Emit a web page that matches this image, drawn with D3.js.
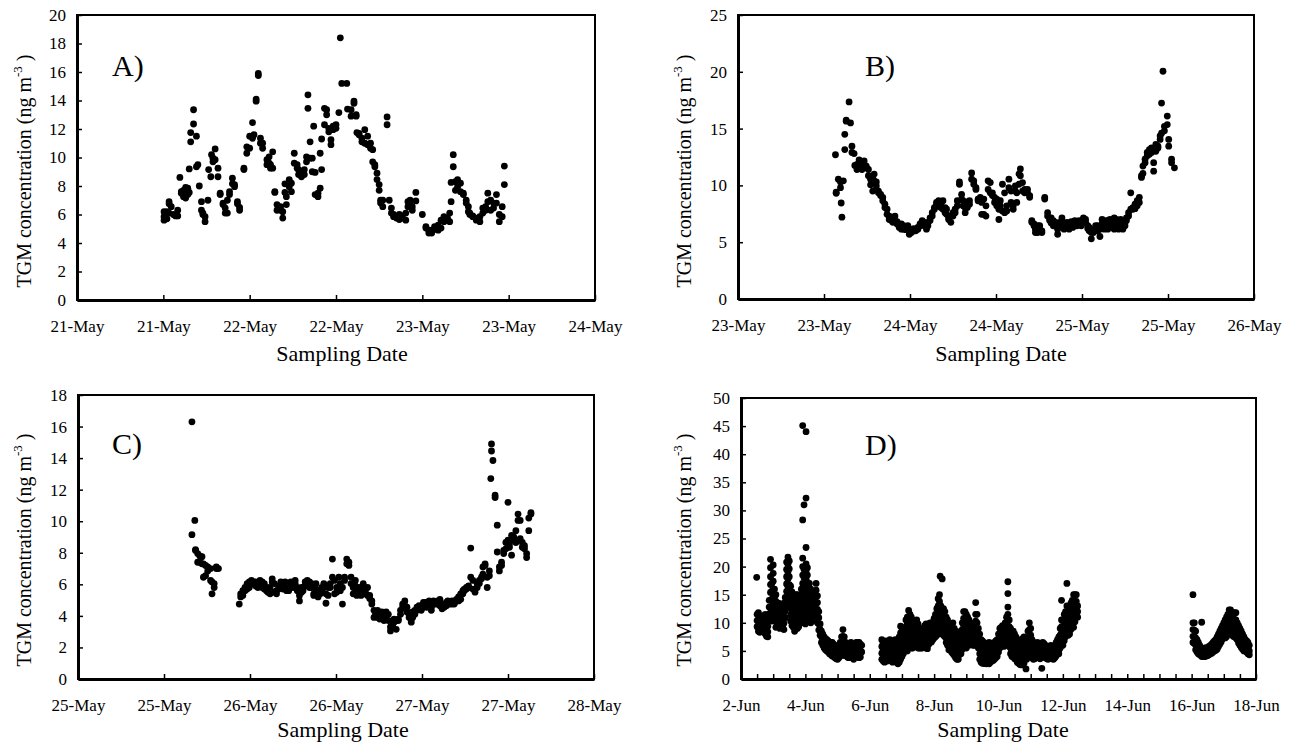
<!DOCTYPE html>
<html>
<head>
<meta charset="utf-8">
<script src="https://cdn.jsdelivr.net/npm/d3@7"></script>
<style>
  body { margin: 0; background: #fff; }
  svg { display: block; }
  text { fill: #000; }
</style>
</head>
<body>
<svg id="chart" width="1300" height="748"></svg>
<script>
var HOUR = 36e5

// sampling periods (UTC midnight of the first day on each axis)
var startA = Date.UTC(2008, 4, 21)
var startB = Date.UTC(2008, 4, 23)
var startC = Date.UTC(2008, 4, 25)
var startD = Date.UTC(2008, 5, 2)

var yTicksA = [0, 2, 4, 6, 8, 10, 12, 14, 16, 18, 20]
var yTicksB = [0, 5, 10, 15, 20, 25]
var yTicksC = [0, 2, 4, 6, 8, 10, 12, 14, 16, 18]
var yTicksD = [0, 5, 10, 15, 20, 25, 30, 35, 40, 45, 50]

// rows: [hours after start, TGM readings around that time (ng m-3)...]
var tgmA = [
  [12.1, 6.2, 5.85, 5.6], [12.5, 5.7, 6.2], [12.8, 6.9, 6.75, 6.1], [13.1, 6.55], [13.4, 6.0], [13.7, 5.9],
  [14.0, 6.3, 5.9], [14.3, 8.6], [14.5, 7.6, 7.5], [14.8, 7.7, 7.25], [15.1, 7.6, 7.9, 7.15], [15.4, 7.85, 7.4],
  [15.6, 9.2, 7.55], [15.8, 11.1, 11.75], [16.2, 13.35, 12.35], [16.6, 11.5, 9.35], [16.8, 9.5], [17.0, 8.0],
  [17.3, 6.9, 6.3], [17.5, 6.1, 6.0], [17.8, 5.5, 5.85], [18.2, 7.0], [18.3, 9.15], [18.6, 8.65], [18.7, 10.2],
  [18.9, 9.95, 9.7], [19.2, 10.6, 9.85], [19.6, 9.25, 8.65], [19.9, 7.5, 7.4], [20.3, 6.8, 6.7], [20.6, 6.45, 6.1],
  [20.9, 6.1, 7.0], [21.2, 7.4, 7.6], [21.6, 8.55, 8.15], [21.9, 8.1, 7.95], [22.3, 6.9, 6.75], [22.6, 6.5, 6.3],
  [23.2, 9.15, 9.25], [23.6, 10.3, 10.75], [24.0, 10.65, 11.5], [24.4, 11.35, 12.45], [24.6, 11.6],
  [24.9, 14.1, 13.95], [25.2, 15.75, 15.9], [25.5, 11.35, 11.0], [25.8, 10.65, 11.0], [26.4, 9.5, 9.85],
  [26.7, 10.05, 9.6], [26.9, 9.25, 9.5], [27.2, 10.4, 9.25], [27.5, 7.6, 7.55], [27.8, 6.3, 6.7], [28.3, 6.55, 6.3],
  [28.6, 5.75, 6.2], [28.9, 7.55, 8.15], [29.1, 7.25, 6.7], [29.5, 8.45, 7.95], [29.8, 7.6, 8.2], [30.2, 10.3, 9.6],
  [30.6, 9.5, 9.25], [30.8, 9.15, 8.8], [31.2, 8.65, 8.9], [31.6, 8.8, 9.15], [31.9, 9.7, 10.05], [32.1, 14.4, 13.45],
  [32.4, 11.1, 9.95], [32.7, 9.95, 9.0], [32.9, 12.2], [33.1, 8.95, 7.4], [33.5, 7.25, 7.5], [33.8, 7.85, 10.3],
  [34.0, 11.3, 9.15], [34.4, 13.45, 12.3], [34.7, 13.35, 13.0], [35.0, 12.05, 11.8], [35.3, 11.25, 10.9],
  [35.6, 11.95, 12.2], [36.0, 12.05, 12.3], [36.4, 13.15], [36.6, 18.4], [36.8, 15.2], [37.5, 15.2], [37.6, 13.4],
  [38.1, 13.35, 12.9], [38.5, 13.95, 13.8], [38.8, 13.0, 12.9], [38.9, 11.75], [39.2, 11.7, 11.6], [39.6, 11.1, 11.35],
  [40.0, 11.95, 11.0], [40.4, 11.5, 10.9], [40.8, 11.0, 10.65], [41.1, 10.55, 9.7], [41.4, 9.5, 9.35], [41.7, 8.9, 8.45],
  [42.0, 8.1, 7.7], [42.2, 7.0, 6.8], [42.5, 6.55, 7.0], [43.1, 12.85, 12.3], [43.4, 7.0], [43.7, 6.45, 6.1],
  [44.0, 6.0, 5.85], [44.4, 5.85, 5.75], [44.8, 6.0, 5.65], [45.2, 5.9, 5.75], [45.7, 5.6, 6.1], [46.0, 6.55, 6.9],
  [46.3, 7.0, 6.7], [46.6, 6.55, 6.3], [47.1, 6.95, 7.55], [48.0, 6.0], [48.5, 5.15, 5.05], [48.9, 4.9, 4.7],
  [49.3, 4.7, 4.9], [49.7, 4.95, 5.15], [50.2, 5.25, 4.9], [50.6, 5.05, 5.6], [51.0, 5.85, 5.5], [51.5, 5.75, 5.6],
  [51.8, 6.1, 5.5], [52.0, 6.9, 8.25], [52.3, 9.35, 10.2], [52.6, 8.3, 7.7], [52.9, 8.45, 7.95], [53.3, 8.2, 7.6],
  [53.7, 7.5, 7.4], [54.1, 7.0, 6.8], [54.4, 6.55, 6.2], [54.6, 6.1, 6.0], [55.0, 5.9, 5.85], [55.5, 5.75, 5.6],
  [56.0, 5.85, 5.5], [56.4, 6.1, 6.45], [56.8, 6.55, 6.3], [57.1, 6.9, 7.5], [57.5, 7.0, 6.3], [57.9, 6.45, 6.8],
  [58.3, 7.4, 6.8], [58.7, 6.0, 5.5], [59.1, 6.55, 5.85], [59.4, 9.4, 8.1]
]

var tgmB = [
  [13.6, 12.7], [13.7, 9.4, 9.3], [14.0, 10.55], [14.3, 10.3, 9.8], [14.4, 8.45], [14.5, 7.2], [14.7, 10.4],
  [14.9, 14.5, 13.15], [15.1, 15.75, 15.65], [15.5, 17.35], [15.7, 15.5], [15.9, 13.45, 12.9], [16.2, 12.8],
  [16.3, 11.75], [16.6, 11.4, 11.85], [16.9, 12.25, 11.7], [17.3, 12.0, 11.4], [17.6, 12.15, 11.85],
  [17.9, 11.7, 11.55], [18.2, 11.4, 10.85], [18.5, 10.05, 10.55], [18.8, 9.5, 10.7], [19.0, 11.0, 10.4],
  [19.3, 10.3, 9.95], [19.6, 9.5, 9.35], [19.9, 9.2, 9.1], [20.2, 8.95, 8.65], [20.5, 8.35, 8.05], [20.8, 7.45, 7.9],
  [21.1, 7.3, 7.0], [21.4, 7.0, 6.9], [21.6, 7.15, 6.75], [21.9, 7.3, 6.9], [22.2, 6.8, 6.6], [22.5, 6.5, 6.3],
  [22.8, 6.6, 6.15], [23.1, 6.15, 6.45], [23.4, 6.3, 6.1], [23.7, 6.15, 6.45], [23.9, 5.85, 5.7], [24.2, 5.85, 6.0],
  [24.5, 6.0, 6.2], [24.8, 6.15, 6.0], [25.1, 6.3, 6.15], [25.4, 6.45, 6.6], [25.7, 6.75, 6.9], [26.0, 6.75, 6.45],
  [26.3, 6.15, 6.45], [26.5, 6.45, 6.75], [26.8, 6.9, 7.15], [27.1, 7.3, 7.6], [27.4, 8.05, 7.9], [27.7, 8.35, 8.5],
  [28.0, 8.65, 8.2], [28.3, 8.35, 8.05], [28.6, 8.65, 7.9], [28.9, 8.05, 7.6], [29.1, 7.9, 7.45], [29.4, 7.15, 7.0],
  [29.7, 6.75, 7.3], [30.0, 7.3, 7.6], [30.3, 7.6, 7.9], [30.6, 8.2, 8.65], [30.9, 10.3, 10.1], [31.2, 9.2, 8.8],
  [31.4, 8.65, 8.2], [31.7, 8.05, 7.6], [32.0, 8.55, 8.05], [32.3, 8.65, 8.35], [32.6, 11.1, 10.55], [32.9, 10.4, 10.1],
  [33.2, 9.8, 9.65], [33.5, 8.8, 8.65], [33.8, 8.65, 8.95], [34.0, 8.5, 7.45], [34.3, 8.8, 7.45], [34.6, 8.2, 7.3],
  [34.9, 9.65, 10.4], [35.2, 10.25, 9.35], [35.5, 9.35, 9.1], [35.8, 8.95, 8.5], [36.1, 8.2, 8.8], [36.4, 7.0, 7.9],
  [36.6, 8.65, 8.2], [36.9, 10.1, 7.75], [37.2, 9.35, 7.6], [37.5, 7.75, 8.2], [37.8, 9.8, 10.55], [38.1, 9.5, 8.5],
  [38.4, 7.9, 8.2], [38.7, 9.95, 9.5], [38.9, 9.35, 8.5], [39.2, 10.1, 11.0], [39.4, 11.45, 10.85], [39.7, 10.25, 9.5],
  [40.0, 9.65, 9.35], [40.4, 9.65, 9.35], [40.7, 9.1, 8.95], [41.0, 6.9, 6.75], [41.3, 6.6, 6.45], [41.5, 6.15, 5.85],
  [41.8, 6.45, 5.85], [42.1, 6.15, 6.45], [42.4, 6.0, 5.85], [42.8, 8.8, 8.95], [43.2, 7.6, 7.3], [43.5, 7.0, 6.9],
  [43.7, 7.15, 6.7], [44.0, 6.9, 6.45], [44.3, 6.75, 6.6], [44.6, 5.7, 6.15], [44.9, 6.75, 6.45], [45.2, 7.15, 6.9],
  [45.5, 6.45, 6.15], [45.9, 6.75, 6.3], [46.2, 6.15, 6.45], [46.5, 6.45, 6.8], [46.7, 6.75, 6.3], [47.0, 6.9, 6.45],
  [47.3, 6.45, 6.75], [47.6, 6.7, 6.9], [47.9, 6.45, 6.6], [48.2, 6.9, 7.15], [48.5, 7.0, 6.75], [48.8, 6.45, 6.2],
  [49.0, 6.3, 6.0], [49.3, 5.3, 5.85], [49.6, 5.85, 6.15], [49.9, 6.15, 6.45], [50.2, 6.0, 6.45], [50.5, 5.5, 6.15],
  [50.8, 7.0, 6.6], [51.1, 6.15, 6.45], [51.4, 6.45, 6.9], [51.6, 6.9, 6.15], [51.9, 6.45, 7.0], [52.2, 6.9, 6.5],
  [52.5, 7.15, 6.15], [52.8, 7.0, 6.45], [53.1, 6.9, 6.15], [53.4, 6.6, 7.0], [53.7, 6.15, 6.45], [54.0, 6.75, 6.45],
  [54.2, 6.9, 7.15], [54.5, 7.3, 7.6], [54.8, 7.9, 9.35], [55.1, 7.9, 8.05], [55.4, 7.95, 8.35], [55.7, 8.65, 8.2],
  [56.0, 8.95, 8.5], [56.3, 10.85, 10.7], [56.5, 11.05, 11.7], [56.8, 12.3, 12.0], [57.1, 12.6, 12.9],
  [57.4, 13.15, 12.75], [57.7, 13.3, 12.9], [58.0, 12.0, 11.25], [58.3, 13.6, 13.0], [58.6, 13.3, 13.45],
  [58.9, 14.35, 14.05], [59.1, 14.6, 17.25], [59.3, 20.05], [59.5, 14.8, 15.2], [59.9, 16.1, 15.35],
  [60.1, 14.05, 13.45], [60.5, 12.3, 12.0], [60.9, 11.55]
]

var tgmC = [
  [15.9, 16.3, 9.15], [16.3, 10.05], [16.4, 8.2, 8.15], [16.7, 7.95, 7.4], [17.0, 7.8, 7.4], [17.3, 7.75, 7.3],
  [17.5, 6.45, 7.3], [17.8, 6.55, 7.2], [18.1, 6.85, 7.1], [18.5, 6.25, 7.0], [18.7, 5.4, 6.15], [19.0, 5.8, 6.05],
  [19.3, 7.1, 7.0], [19.6, 7.0],
  [22.5, 4.75], [22.7, 5.4, 5.2], [23.0, 5.6, 5.3], [23.3, 5.8, 5.6], [23.6, 6.05, 5.7], [23.9, 6.15, 5.8],
  [24.2, 6.25, 6.05], [24.5, 6.05, 6.15], [24.8, 6.15, 5.9], [25.1, 5.8, 6.05], [25.4, 6.25, 5.9], [25.7, 6.15, 5.8],
  [26.0, 6.05, 5.7], [26.3, 5.8, 5.6], [26.5, 5.5, 5.7], [26.8, 5.8, 5.4], [27.1, 6.35, 6.15], [27.4, 6.05, 5.5],
  [27.7, 5.6, 5.4], [28.0, 5.7, 5.9], [28.3, 5.8, 6.15], [28.6, 5.9, 5.7], [28.9, 6.15, 5.8], [29.1, 5.8, 5.6],
  [29.4, 5.7, 5.6], [29.7, 5.9, 6.15], [30.0, 5.9, 5.8], [30.3, 6.25, 6.05], [30.6, 5.8, 5.6], [30.9, 4.95, 5.3],
  [31.2, 5.5, 5.8], [31.4, 5.6, 5.8], [31.7, 6.15, 5.9], [32.0, 6.05, 6.25], [32.3, 6.15, 5.8], [32.6, 6.05, 5.8],
  [32.9, 5.4, 5.3], [33.2, 6.05, 5.7], [33.5, 5.4, 5.2], [33.8, 5.6, 5.4], [34.0, 5.8, 5.6], [34.3, 6.05, 5.8],
  [34.6, 4.8, 5.4], [34.9, 5.8, 5.3], [35.2, 5.8, 6.05], [35.5, 7.6, 6.45], [35.8, 6.25, 5.4], [36.1, 5.8, 5.5],
  [36.4, 6.45, 5.6], [36.6, 6.05, 5.6], [36.9, 4.75, 5.8], [37.2, 6.25, 6.45], [37.5, 7.6, 7.3], [37.8, 7.4, 7.2],
  [38.1, 6.45, 6.05], [38.4, 5.8, 5.4], [38.7, 6.25, 5.9], [38.9, 5.3, 5.6], [39.2, 5.8, 5.5], [39.5, 5.6, 5.3],
  [39.8, 6.05, 5.8], [40.1, 5.6, 5.4], [40.4, 5.8, 5.3], [40.7, 5.3, 5.1], [41.0, 4.95, 4.75], [41.3, 4.35, 3.9],
  [41.5, 4.25, 4.0], [41.8, 4.35, 3.9], [42.1, 4.1, 3.8], [42.4, 4.25, 3.9], [42.7, 4.0, 3.7], [43.0, 3.9, 4.25],
  [43.3, 4.1, 3.7], [43.6, 3.05, 3.3], [43.9, 3.7, 3.4], [44.1, 3.8, 3.6], [44.4, 3.15, 3.7], [44.7, 3.8, 3.7],
  [45.0, 4.35, 4.1], [45.3, 4.75, 4.55], [45.6, 4.95, 4.65], [45.9, 4.55, 4.25], [46.2, 4.1, 3.9], [46.5, 3.8, 3.6],
  [46.7, 3.9, 4.25], [47.0, 4.35, 4.1], [47.3, 4.35, 4.55], [47.6, 4.45, 4.65], [47.9, 4.55, 4.35],
  [48.2, 4.75, 4.85], [48.5, 4.85, 4.55], [48.8, 4.75, 4.55], [49.0, 4.95, 4.65], [49.3, 4.55, 4.35],
  [49.6, 4.75, 4.95], [49.9, 4.75, 4.85], [50.2, 4.95, 4.75], [50.5, 5.05, 4.65], [50.8, 4.45, 4.75],
  [51.1, 4.55, 4.75], [51.4, 4.85, 4.65], [51.6, 4.95, 4.75], [51.9, 4.75, 4.85], [52.2, 4.75, 4.95],
  [52.5, 4.75, 4.85], [52.8, 5.05, 4.95], [53.1, 4.95, 5.2], [53.4, 5.05, 5.4], [53.7, 5.4, 5.6], [53.9, 5.6, 5.7],
  [54.2, 5.7, 5.8], [54.5, 5.9, 5.8], [54.8, 8.3, 6.45], [55.1, 6.25, 5.7], [55.4, 5.7, 5.5], [55.7, 5.8, 6.05],
  [56.0, 6.25, 6.05], [56.3, 6.35, 6.45], [56.5, 6.65, 7.1], [56.8, 7.2, 7.3], [57.1, 5.8, 6.45], [57.4, 6.55, 6.85],
  [57.6, 12.7], [57.7, 14.9, 14.45], [57.9, 13.85], [58.2, 11.65, 11.5], [58.5, 9.75, 8.05], [58.8, 6.85, 7.1],
  [59.1, 7.4, 7.2], [59.4, 7.95, 8.15], [59.7, 8.25, 8.65], [60.0, 11.2, 8.8], [60.2, 8.35, 8.55], [60.5, 7.85, 9.1],
  [60.8, 9.0, 8.8], [61.1, 8.65, 9.4], [61.4, 10.05, 10.45], [61.7, 10.05, 8.9], [62.0, 8.65, 8.35],
  [62.3, 8.25, 8.45], [62.6, 7.95, 7.7], [62.9, 9.4, 10.2], [63.2, 10.55, 10.45]
]

var tgmD = [
  [11.7, 18.1], [12, 11.5, 10.4, 9.3], [13, 11.8, 10.6, 9.5, 8.5], [14, 10.5, 9.4, 8.3], [15, 11, 10, 9],
  [16, 11.2, 10, 8.8], [17, 10.8, 9.6, 8.6], [18, 11.5, 10.3, 9.2, 8], [19, 10, 8.8, 7.6], [20, 10.5, 9.4, 8.4, 7.5],
  [21, 14, 12.8, 11.6, 10.4], [22, 21.3, 19.8, 18.2, 16.8, 15.4, 14, 12.6, 11.2], [23, 17, 15.6, 14.2, 12.8, 11.5, 10.3],
  [24, 20.3, 18.8, 17.4, 16, 14.6, 13.2, 11.8, 10.6], [25, 16, 14.6, 13.2, 11.8, 10.5],
  [26, 15, 13.8, 12.6, 11.4, 10.2, 9.2], [27, 13.5, 12.3, 11.1, 10], [28, 13.5, 12.3, 11.1, 9.9],
  [29, 12.5, 11.3, 10.1, 9], [30, 12.5, 11.4, 10.3, 9.2], [31, 13, 11.8, 10.6, 9.4], [32, 13.5, 12.3, 11.1, 9.9, 8.8],
  [33, 14.5, 13.3, 12.1, 10.9], [34, 20.8, 19.5, 18.2, 16.9, 15.6, 14.3, 13], [35, 21.7, 20.4, 19.1, 17.8, 16.5, 15.2, 13.9],
  [36, 21, 19.6, 18.2, 16.8, 15.4, 14], [37, 16.5, 15.2, 13.9, 12.6, 11.4, 10.3], [38, 15.5, 14.3, 13.1, 11.9, 10.7, 9.5],
  [39, 14, 12.8, 11.6, 10.4, 9.2], [40, 14.5, 13.3, 12.1, 10.9, 9.7, 8.5], [41, 15, 13.8, 12.6, 11.4, 10.2, 9],
  [42, 15, 13.8, 12.6, 11.4, 10.2, 9], [43, 14, 12.8, 11.6, 10.4, 9.3], [44, 13.5, 12.3, 11.1, 9.9],
  [45, 16, 14.8, 13.6, 12.4, 11.2, 10], [46, 45.1, 28.3, 21.5, 20, 18.5, 17, 15.6, 14.2, 12.8, 11.5],
  [47, 31, 19.5, 18, 16.5, 15, 13.5, 12, 10.6], [48, 17.5, 16.2, 14.9, 13.6, 12.3, 11, 9.8],
  [48.5, 44, 32.2, 23.4, 20.5, 19.2, 17.9, 16.6], [49.5, 19.8, 18.5, 17.2, 15.9, 14.6, 13.3, 12, 10.8],
  [51, 17, 15.8, 14.6, 13.4, 12.2, 11], [52, 16, 14.8, 13.6, 12.4, 11.2, 10], [53, 15, 13.8, 12.6, 11.4, 10.3],
  [54, 14.5, 13.3, 12.1, 11], [55, 15, 13.8, 12.6, 11.5], [56, 17, 15.8, 14.6, 13.4, 12.2], [57, 14.8, 13.6, 12.4, 11.2, 10],
  [58, 12, 10.9, 9.8, 8.7], [59, 9.8, 8.8, 7.8], [60, 8.5, 7.5, 6.5], [61, 8, 7, 6], [62, 7.5, 6.5, 5.5], [63, 7.2, 6.2, 5.2],
  [64, 7, 6, 5], [65, 6.8, 5.8, 4.8], [66, 6.5, 5.5, 4.5], [67, 6.5, 5.4, 4.3], [68, 6.5, 5.3, 4.1], [69, 6.2, 5.1, 4],
  [70, 6, 4.9, 3.8], [71, 5.8, 4.7, 3.6], [72, 5.5, 4.5, 3.5], [73, 6, 4.9, 3.8], [74, 6.5, 5.4, 4.3],
  [75, 7.5, 6.3, 5.1, 4.2], [76, 8.8, 7.6, 6.4, 5.3, 4.5], [77, 7.5, 6.3, 5.1, 4.2], [78, 6.5, 5.4, 4.3], [79, 6.2, 5.1, 4],
  [80, 6, 4.9, 3.8], [81, 6.2, 5.1, 4], [82, 6.5, 5.4, 4.3], [83, 6.2, 5, 3.8], [84, 6, 4.8, 3.5], [85, 6.3, 5.2, 4.1],
  [86, 6.5, 5.5, 4.5], [87, 6.5, 5.3, 4.1], [88, 6.5, 5.3, 3.8], [89, 6.2, 5, 3.9], [90, 6, 4.8],

  [105, 7, 5.8, 4.6, 3.5], [106, 6.5, 5.4, 4.3, 3.2], [107, 6.5, 5.3, 4.1, 3], [108, 6.8, 5.6, 4.4, 3.3],
  [109, 6, 4.9, 3.8, 3.2], [110, 6.5, 5.4, 4.3], [111, 7, 5.8, 4.6, 3.6], [112, 6.8, 5.6, 4.4, 3.3],
  [113, 6.5, 5.3, 4.1, 3], [114, 6.8, 5.6, 4.4, 3.3], [115, 7, 5.8, 4.6, 3.5], [116, 6.5, 5.3, 4.1, 3],
  [117, 6, 4.9, 3.8, 2.7], [118, 7.5, 6.3, 5.1, 4, 3], [119, 9.4, 8.2, 7, 5.8, 4.6, 3.5], [120, 8.5, 7.3, 6.1, 5, 4],
  [121, 8, 6.8, 5.6, 4.5], [122, 9, 7.8, 6.6, 5.4], [123, 10.5, 9.3, 8.1, 6.9, 5.7, 5], [124, 11, 9.8, 8.6, 7.4, 6.2, 5],
  [125, 12.2, 11, 9.8, 8.6, 7.4, 6.2], [126, 11.5, 10.3, 9.1, 7.9, 6.7, 5.6], [127, 11, 9.8, 8.6, 7.4, 6.2, 5.5],
  [128, 10, 8.8, 7.6, 6.4, 5.5], [129, 9.5, 8.3, 7.1, 6], [130, 10, 8.8, 7.6, 6.4], [131, 10.5, 9.3, 8.1, 6.9, 6],
  [132, 9.8, 8.6, 7.4, 6.2, 5.5], [133, 9, 7.8, 6.6, 5.5], [134, 8.8, 7.6, 6.4, 5.5], [135, 8.5, 7.3, 6.1, 5.5],
  [136, 9, 7.8, 6.6, 5.6], [137, 9.5, 8.3, 7.1, 6], [138, 9.8, 8.6, 7.4, 6.2, 5.5], [139, 9.5, 8.3, 7.1, 5.9, 5.4],
  [140, 9.8, 8.6, 7.4, 6.2], [141, 10, 8.8, 7.6, 6.5], [142, 10, 8.8, 7.6, 6.6], [143, 10, 8.9, 7.8, 7],
  [144, 10.8, 9.6, 8.4, 7.3], [145, 11.5, 10.3, 9.1, 7.9, 7.5], [146, 12.5, 11.3, 10.1, 8.9, 7.8],
  [147, 14.3, 13, 11.8, 10.6, 9.4, 8.2], [148, 15, 13.8, 12.6, 11.4, 10.2, 9, 8.5], [148.5, 18.3],
  [149, 13, 11.8, 10.6, 9.4, 8.2], [150, 17.8, 12.5, 11.3, 10.1, 8.9, 8], [151, 12.5, 11.3, 10.1, 8.9, 7.8],
  [152, 12, 10.8, 9.6, 8.4, 7.5], [153, 11, 9.8, 8.6, 7.4, 6.5], [154, 10.5, 9.3, 8.1, 6.9, 6],
  [155, 9.5, 8.3, 7.1, 6, 5.2], [156, 9, 7.8, 6.6, 5.5], [157, 9.5, 8.3, 7.1, 5.9, 4.8], [158, 10, 8.8, 7.6, 6.4, 5.2, 4.5],
  [159, 9, 7.8, 6.6, 5.4, 4.2], [160, 8.5, 7.3, 6.1, 5, 3.8], [161, 8, 6.8, 5.6, 4.5, 3.5], [162, 7.5, 6.3, 5.1, 4, 3.5],
  [163, 8, 6.8, 5.6, 4.5], [164, 8.5, 7.3, 6.1, 5, 4.5], [165, 10, 8.8, 7.6, 6.4, 5.3], [166, 12, 10.8, 9.6, 8.4, 7.2, 6],
  [167, 12, 10.8, 9.6, 8.4, 7.2, 6], [168, 11.5, 10.3, 9.1, 7.9, 6.7, 5.5], [169, 11, 9.8, 8.6, 7.4, 6.2],
  [170, 10.5, 9.3, 8.1, 6.9, 6], [171, 10, 8.8, 7.6, 6.4], [172, 9.5, 8.3, 7.1, 6.3], [173, 9.2, 8, 6.8, 6],
  [174, 9, 7.8, 6.6, 6], [175, 13.6, 11.5, 10.3, 9.1, 7.9, 7], [176, 11.5, 10, 8.8, 7.6, 6.5], [177, 9, 7.8, 6.6, 5.5],
  [178, 8, 6.8, 5.6, 4.5, 3.5], [179, 7, 5.8, 4.6, 3.5, 3], [180, 6.8, 5.6, 4.4, 3.3, 2.8], [181, 6.5, 5.3, 4.1, 3, 2.8],
  [182, 6.3, 5.1, 3.9, 2.8], [183, 6, 4.8, 3.6, 2.7], [184, 6.3, 5.1, 3.9, 2.8], [185, 6.5, 5.3, 4.1, 3, 2.7],
  [186, 6.3, 5.1, 3.9, 3], [187, 6, 4.8, 3.6, 3.2], [188, 6.3, 5.1, 3.9, 3.3], [189, 6.5, 5.3, 4.1, 3.5],
  [190, 6.8, 5.6, 4.4, 3.8], [191, 7, 5.8, 4.6, 4], [192, 8, 6.8, 5.6, 4.8], [193, 9, 7.8, 6.6, 5.5],
  [194, 9.2, 8, 6.8, 5.8], [195, 9.5, 8.3, 7.1, 6], [196, 9.2, 8, 6.8, 5.8], [197, 10, 8.8, 7.6, 6.5],
  [198, 11, 9.8, 8.6, 7.4, 6.5], [199, 17.3, 15.2, 12.8, 11.5, 10.3, 9.1, 8], [200, 10.5, 9.3, 8.1, 6.9, 5.8],
  [201, 9, 7.8, 6.6, 5.5, 4.5], [202, 8.5, 7.3, 6.1, 5, 4], [203, 8.5, 7.3, 6.1, 5, 4], [204, 8, 6.8, 5.6, 4.5, 3.6],
  [205, 7.5, 6.3, 5.1, 4, 3.5], [206, 7, 5.8, 4.6, 3.5, 3], [207, 6.5, 5.3, 4.1, 3, 2.8], [208, 6.8, 5.6, 4.4, 3.2, 2.6],
  [209, 7, 5.8, 4.6, 3.4, 2.5], [210, 7.2, 6, 4.8, 3.6, 2.6], [211, 7.5, 6.3, 5.1, 3.9, 2.8], [212.5, 1.8],
  [213, 7, 5.8, 4.6, 3.5], [214, 8.5, 7.3, 6.1, 4.9, 4], [215, 10, 8.8, 7.6, 6.4, 5.2, 4.5], [216, 9, 7.8, 6.6, 5.4, 4.3],
  [217, 7, 5.8, 4.6, 3.8], [218, 6.5, 5.3, 4.1, 3.5], [219, 6, 4.8, 3.6], [220, 6.3, 5.1, 3.9], [221, 6.5, 5.3, 4.1, 3.8],
  [222, 6.2, 5, 3.8], [223, 6, 4.8, 3.6], [224.3, 1.9], [225, 6.5, 5.3, 4.1], [226, 6.3, 5.1, 3.9], [227, 6, 4.8, 3.8],
  [228, 5.8, 4.7, 3.6], [229, 5.5, 4.5, 3.5], [230, 5.8, 4.7, 3.7], [231, 6, 4.9, 3.8], [232, 5.8, 4.7, 3.6],
  [233, 5.5, 4.5, 3.5], [234, 6, 4.9, 3.8], [235, 6.5, 5.3, 4.1], [236, 7, 5.8, 4.6], [237, 7.5, 6.3, 5.1, 4.5],
  [238, 9, 7.8, 6.6, 5.5], [239, 14, 10.5, 9.3, 8.1, 6.9, 6], [240, 10.5, 9.3, 8.1, 6.9, 6],
  [241, 11.5, 10.3, 9.1, 7.9, 6.8], [242, 12, 10.8, 9.6, 8.4, 7.5], [243, 17, 13, 11.8, 10.6, 9.4, 8.2],
  [244, 12, 10.8, 9.6, 8.4, 7.8], [245, 12.5, 11.3, 10.1, 8.9, 8], [246, 13.5, 12.3, 11.1, 9.9, 8.8],
  [247, 14, 12.8, 11.6, 10.4, 9.2], [248, 15, 13.8, 12.6, 11.4, 10.2, 9.2], [249, 15, 13.8, 12.6, 11.4, 10.2],
  [250, 15, 13.8, 12.6, 11.5], [251, 13, 12, 11],

  [337, 15, 10, 8.8, 7.6, 6.5], [338, 10, 8.7, 7.5, 6.3], [339, 8.5, 7.3, 6.1, 5.2], [340, 7, 5.9, 4.8],
  [341, 6.5, 5.4, 4.5], [342, 6, 5, 4.3], [343.5, 10.1, 5.5, 4.5, 4], [345, 5.5, 4.7, 4], [346, 5.5, 4.7, 4],
  [347, 5.6, 4.8, 4.1], [348, 5.6, 4.9, 4.2], [349, 5.8, 5, 4.3], [350, 6, 5.2, 4.5], [351, 6.2, 5.4, 4.6],
  [352, 6.5, 5.6, 4.8], [353, 6.8, 5.9, 5], [354, 7, 6, 5.1], [355, 7.5, 6.4, 5.3], [356, 8, 6.9, 5.8],
  [357, 8.5, 7.3, 6.2], [358, 9, 7.8, 6.6], [359, 9.5, 8.3, 7.1], [360, 10, 8.8, 7.6], [361, 10.5, 9.3, 8.1, 7.3],
  [362, 11, 9.8, 8.6, 7.5], [363, 11.5, 10.3, 9.1, 8], [364, 12.3, 11, 9.8, 8.6, 8], [365, 12.3, 11, 9.8, 8.6],
  [366, 11.5, 10.3, 9.1, 8], [367, 11, 9.8, 8.6, 7.6], [368, 11.8, 10.5, 9.3, 8.1, 7.5], [369, 11.8, 10.5, 9.3, 8.1, 7.3],
  [370, 10, 8.8, 7.6, 7], [371, 9.5, 8.3, 7.1, 6.4], [372, 9, 7.8, 6.6, 6], [373, 8.5, 7.3, 6.1, 5.6],
  [374, 8, 6.9, 5.8, 5.3], [375, 7.5, 6.5, 5.5, 5], [376, 7, 6, 5], [377, 6.8, 5.8, 4.8], [378, 6.5, 5.5, 4.5],
  [379, 6, 5, 4.3]
]

var panels = [
  { label: 'A)', rows: tgmA, start: startA, days: 3, labelEvery: 12, yTicks: yTicksA,
    box: [77, 15, 595, 300], labelAt: [112, 76], yTitleAt: [31, 171], xTitleAt: [342, 361] },
  { label: 'B)', rows: tgmB, start: startB, days: 3, labelEvery: 12, yTicks: yTicksB,
    box: [738, 15, 1254, 299], labelAt: [865, 76], yTitleAt: [691, 171], xTitleAt: [1001, 361] },
  { label: 'C)', rows: tgmC, start: startC, days: 3, labelEvery: 12, yTicks: yTicksC,
    box: [78, 395, 594, 679], labelAt: [112, 454], yTitleAt: [31, 550], xTitleAt: [343, 737] },
  { label: 'D)', rows: tgmD, start: startD, days: 16, labelEvery: 48, yTicks: yTicksD,
    box: [741, 398, 1256, 679], labelAt: [865, 455], yTitleAt: [691, 550], xTitleAt: [1003, 737] }
]

var serif = "'Liberation Serif', 'DejaVu Serif', serif"

var svg = d3.select('#chart')
    .style('font-family', serif)
svg.append('rect').attr('width', 1300).attr('height', 748).attr('fill', '#fff')

var fmtDay = d3.utcFormat('%-d-%b')

function styleAxis (sel) {
  sel.attr('font-family', null).attr('font-size', null)
      .style('font-family', serif).style('font-size', '17px')
  sel.select('.domain').attr('stroke-width', 3)
  sel.selectAll('.tick line').attr('stroke-width', 1.5)
  sel.selectAll('.tick text').attr('fill', '#000')
}

function draw (p) {
  var x0 = p.box[0], y0 = p.box[1], x1 = p.box[2], y1 = p.box[3]
  var t0 = new Date(p.start)
  var t1 = new Date(p.start + p.days * 24 * HOUR)

  var x = d3.scaleUtc().domain([t0, t1]).range([x0, x1])
  var y = d3.scaleLinear().domain([0, p.yTicks[p.yTicks.length - 1]]).range([y1, y0])

  var points = []
  p.rows.forEach(function (r) {
    r.slice(1).forEach(function (v) {
      points.push({ t: new Date(p.start + r[0] * HOUR), v: v })
    })
  })

  var g = svg.append('g')

  g.append('rect')
      .attr('x', x0).attr('y', y0)
      .attr('width', x1 - x0).attr('height', y1 - y0)
      .attr('fill', 'none').attr('stroke', '#000').attr('stroke-width', 2)

  g.append('g').selectAll('circle')
      .data(points)
      .join('circle')
      .attr('cx', d => x(d.t))
      .attr('cy', d => y(d.v))
      .attr('r', 3.4)
      .attr('fill', '#000')

  var ticks = d3.utcHour.every(12).range(t0, new Date(+t1 + 1))
  var xAxis = d3.axisBottom(x)
      .tickValues(ticks)
      .tickSizeInner(-5).tickSizeOuter(0)
      .tickPadding(20)
      .tickFormat(d => ((d - t0) / HOUR) % p.labelEvery === 0 ? fmtDay(d) : '')

  var yAxis = d3.axisLeft(y)
      .tickValues(p.yTicks)
      .tickSizeInner(-5).tickSizeOuter(0)
      .tickPadding(11)
      .tickFormat(d3.format('d'))

  g.append('g').attr('transform', `translate(0,${y1})`).call(xAxis).call(styleAxis)
  g.append('g').attr('transform', `translate(${x0},0)`).call(yAxis).call(styleAxis)

  // axis titles
  var title = g.append('text')
      .attr('transform', `translate(${p.yTitleAt[0]},${p.yTitleAt[1]}) rotate(-90)`)
      .attr('text-anchor', 'middle')
      .style('font-size', '20px')
  title.append('tspan').text('TGM concentration (ng m')
  title.append('tspan').attr('dy', -9).style('font-size', '13px').text('-3')
  title.append('tspan').attr('dy', 9).text(' )')

  g.append('text')
      .attr('x', p.xTitleAt[0]).attr('y', p.xTitleAt[1])
      .attr('text-anchor', 'middle')
      .style('font-size', '22px')
      .text('Sampling Date')

  g.append('text')
      .attr('x', p.labelAt[0]).attr('y', p.labelAt[1])
      .style('font-size', '30px')
      .text(p.label)
}

panels.forEach(draw)
</script>
</body>
</html>
